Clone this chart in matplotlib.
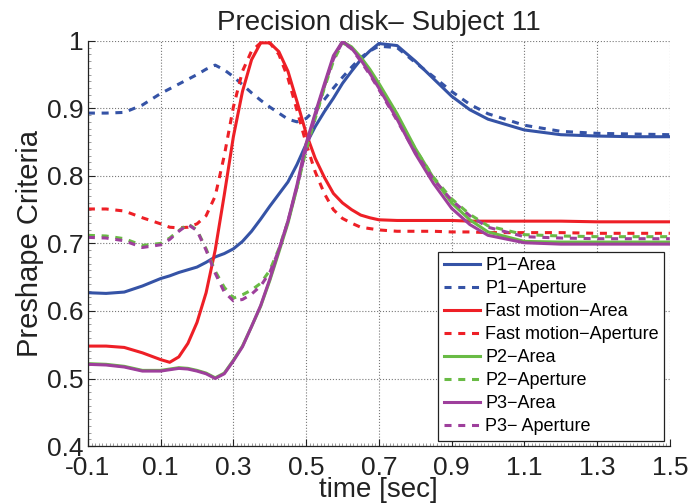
import matplotlib
matplotlib.use("Agg")
import matplotlib.pyplot as plt
from matplotlib.ticker import MultipleLocator, FormatStrFormatter

# time axis (sec) shared by all curves
t = [-0.1, -0.05, 0.0, 0.05, 0.1, 0.125, 0.15, 0.175, 0.2, 0.225,
     0.25, 0.275, 0.3, 0.325, 0.35, 0.375, 0.4, 0.425, 0.45, 0.475,
     0.5, 0.525, 0.55, 0.575, 0.6, 0.625, 0.65, 0.675, 0.7, 0.75,
     0.8, 0.85, 0.9, 0.95, 1.0, 1.1, 1.2, 1.3, 1.4, 1.5]

p1_area = [.627, .626, .628, .637, .648, .652, .657, .661, .665, .672,
           .680, .685, .692, .703, .718, .736, .755, .773, .791, .817,
           .847, .873, .895, .915, .937, .955, .972, .985, .996, .993,
           .970, .944, .918, .898, .884, .868, .861, .859, .858, .858]
p1_aperture = [.893, .893, .894, .905, .922, .929, .936, .943, .950, .958,
               .964, .957, .947, .935, .923, .912, .902, .893, .884, .880,
               .885, .898, .913, .930, .946, .961, .975, .985, .992, .990,
               .968, .947, .925, .906, .892, .875, .866, .863, .862, .861]
fm_area = [.548, .548, .546, .538, .528, .524, .532, .552, .583, .627,
           .690, .772, .858, .925, .972, .997, .997, .984, .955, .910,
           .863, .826, .798, .774, .760, .750, .742, .738, .735, .734,
           .734, .734, .734, .733, .733, .733, .733, .732, .732, .732]
fm_aperture = [.751, .751, .748, .738, .729, .724, .723, .724, .729, .741,
               .770, .830, .902, .955, .985, .997, .997, .980, .945, .897,
               .848, .806, .774, .750, .737, .730, .724, .722, .720, .718,
               .718, .718, .717, .717, .716, .716, .716, .715, .715, .715]
p2_area = [.522, .521, .518, .512, .512, .514, .516, .515, .512, .508,
           .501, .508, .527, .548, .577, .607, .645, .687, .730, .783,
           .846, .890, .932, .975, .999, .991, .976, .958, .937, .892,
           .841, .797, .760, .735, .717, .703, .702, .702, .702, .702]
p2_aperture = [.712, .711, .707, .697, .700, .708, .719, .729, .720, .692,
               .659, .635, .619, .624, .631, .641, .660, .692, .733, .783,
               .838, .885, .930, .970, .997, .990, .974, .955, .933, .888,
               .840, .798, .766, .743, .726, .713, .711, .710, .710, .710]
p3_area = [.521, .520, .517, .511, .511, .513, .515, .514, .511, .507,
           .500, .507, .526, .547, .577, .608, .647, .690, .733, .787,
           .848, .893, .936, .978, .999, .989, .972, .952, .930, .884,
           .833, .789, .752, .728, .712, .701, .699, .699, .699, .699]
p3_aperture = [.709, .708, .704, .694, .698, .706, .718, .728, .719, .690,
               .656, .628, .615, .617, .625, .637, .657, .690, .733, .784,
               .840, .888, .933, .973, .998, .988, .970, .950, .928, .882,
               .835, .795, .764, .741, .724, .710, .708, .707, .707, .707]

labels = ["P1\u2212Area", "P1\u2212Aperture", "Fast motion\u2212Area",
          "Fast motion\u2212Aperture", "P2\u2212Area", "P2\u2212Aperture",
          "P3\u2212Area", "P3\u2212 Aperture"]

blue = "#3553a6"
red = "#ee1f26"
green = "#69bb45"
purple = "#9e3f9c"

plt.rcParams['font.family'] = ['Liberation Sans', 'DejaVu Sans']

fig = plt.figure(figsize=(6.92, 5.04), dpi=100)
ax = fig.add_axes([0.127, 0.115, 0.841, 0.804])

lw = 2.2
dash = (2.3, 2.2)
series = [(p1_area, blue, None), (p1_aperture, blue, dash),
          (fm_area, red, None), (fm_aperture, red, dash),
          (p2_area, green, None), (p2_aperture, green, dash),
          (p3_area, purple, None), (p3_aperture, purple, dash)]
for (y, c, d), lab in zip(series, labels):
    line, = ax.plot(t, y, color=c, lw=lw, label=lab)
    if d is not None:
        line.set_dashes(d)

ax.set_xlim(-0.1, 1.5)
ax.set_ylim(0.4, 1.0)
ax.xaxis.set_major_locator(MultipleLocator(0.2, offset=0.1))
ax.yaxis.set_major_locator(MultipleLocator(0.1))
ax.xaxis.set_minor_locator(MultipleLocator(0.01))
ax.yaxis.set_minor_locator(MultipleLocator(0.01))
ax.xaxis.set_major_formatter(FormatStrFormatter('%g'))
ax.yaxis.set_major_formatter(FormatStrFormatter('%g'))

ax.grid(True, which='major', linestyle=':', color='#777777', lw=0.8)
ax.spines['top'].set_visible(False)
ax.spines['right'].set_visible(False)
for s in ['left', 'bottom']:
    ax.spines[s].set_color('#222222')
    ax.spines[s].set_linewidth(0.9)
ax.tick_params(which='both', direction='in', top=False, right=False,
               labelsize=19, colors='#222222')
ax.tick_params(which='major', length=5, pad=3)
ax.tick_params(axis='x', which='major', pad=7)
ax.tick_params(which='minor', length=2, width=0.4, colors='#555555')

ax.set_title("Precision disk\u2013 Subject 11", fontsize=20, pad=8, color='#222222')
ax.set_xlabel("time [sec]", fontsize=20, labelpad=-2, color='#222222')
ax.set_ylabel("Preshape Criteria", fontsize=21, labelpad=2, color='#222222')

leg = ax.legend(loc='lower right', fontsize=13, handlelength=2.0,
                labelspacing=0.33, borderaxespad=0.3, fancybox=False,
                framealpha=1, edgecolor='#222222', borderpad=0.3,
                handletextpad=0.3)
leg.get_frame().set_linewidth(0.9)

fig.savefig("out.png", dpi=100)
